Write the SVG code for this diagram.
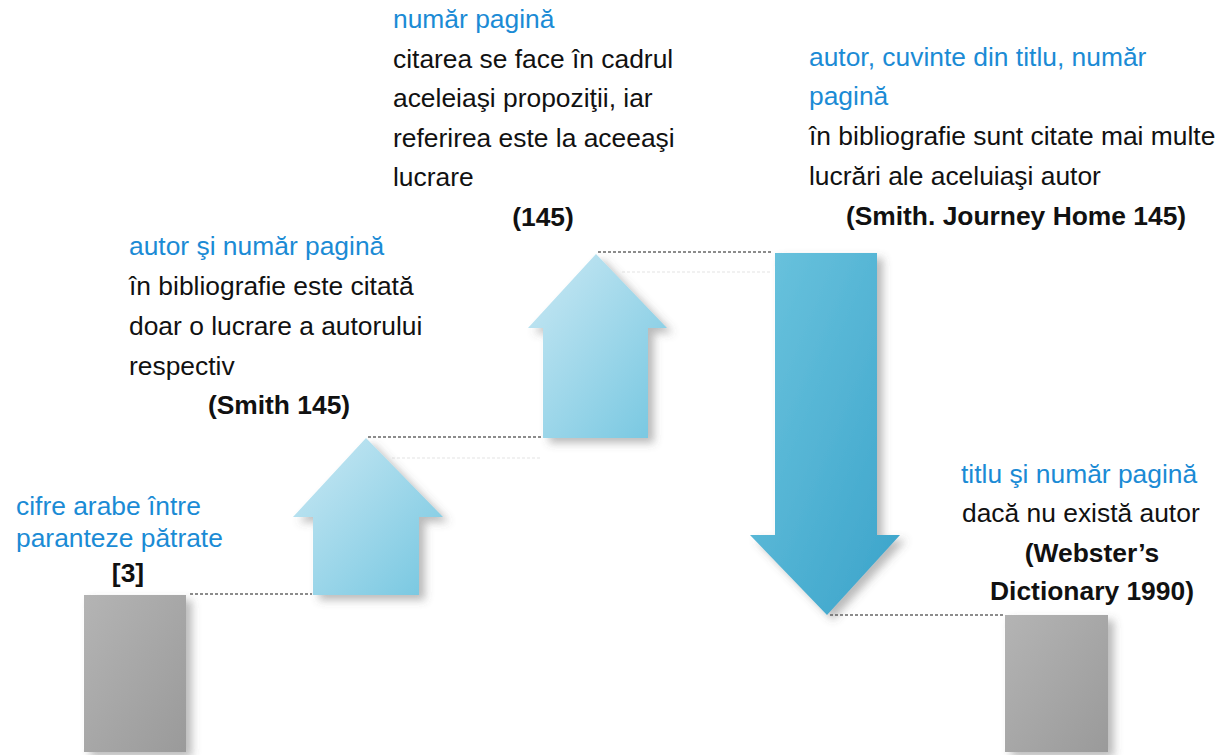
<svg xmlns="http://www.w3.org/2000/svg" width="1230" height="755" viewBox="0 0 1230 755">
<defs>
<linearGradient id="gGray" x1="0" y1="0" x2="1" y2="1">
<stop offset="0" stop-color="#b4b4b4"/>
<stop offset="1" stop-color="#9a9a9a"/>
</linearGradient>
<linearGradient id="gUp" x1="0" y1="0" x2="1" y2="1">
<stop offset="0" stop-color="#cbe9f4"/>
<stop offset="1" stop-color="#74c6e0"/>
</linearGradient>
<linearGradient id="gDown" x1="0" y1="0" x2="1" y2="1">
<stop offset="0" stop-color="#6cc4de"/>
<stop offset="1" stop-color="#3aa3ca"/>
</linearGradient>
<linearGradient id="gBase" x1="0" y1="0" x2="1" y2="0">
<stop offset="0" stop-color="#d4d4d4" stop-opacity="0.3"/>
<stop offset="0.1" stop-color="#d4d4d4"/>
<stop offset="0.85" stop-color="#d4d4d4"/>
<stop offset="1" stop-color="#d4d4d4" stop-opacity="0"/>
</linearGradient>
<filter id="sh" x="-20%" y="-20%" width="150%" height="150%">
<feDropShadow dx="6" dy="5" stdDeviation="4" flood-color="#555" flood-opacity="0.4"/>
</filter>
</defs>
<style>
text{font-family:"Liberation Sans",Arial,sans-serif;font-size:26.4px;fill:#111}
.b{fill:#1b8bd5}
.bold{font-weight:bold}
.c{text-anchor:middle}
.dot{stroke:#8c8c8c;stroke-width:2;stroke-dasharray:3 2;fill:none}
.dotf{stroke:#8c8c8c;stroke-width:2;stroke-dasharray:3 2;fill:none;opacity:0.12}
</style>
<rect width="1230" height="755" fill="#ffffff"/>
<line x1="43" y1="753" x2="1215" y2="753" stroke="url(#gBase)" stroke-width="2"/>

<g id="connectors">
<line class="dot" x1="190" y1="594" x2="312" y2="594"/>
<line class="dot" x1="368" y1="437" x2="541" y2="437"/>
<line class="dot" x1="598" y1="252" x2="772" y2="252"/>
<line class="dot" x1="830" y1="615" x2="1003" y2="615"/>
<line class="dotf" x1="392" y1="458" x2="541" y2="458"/>
<line class="dotf" x1="622" y1="272" x2="772" y2="272"/>
</g>

<g id="node-box1">
<rect x="84" y="595" width="102" height="157" fill="url(#gGray)" filter="url(#sh)"/>
<text class="b" x="16" y="515">cifre arabe între</text>
<text class="b" x="16" y="547">paranteze pătrate</text>
<text class="bold c" x="128" y="582">[3]</text>
</g>

<g id="node-arrow1">
<path d="M366,438 L443,517 L419,517 L419,595 L313,595 L313,517 L293,517 Z" fill="url(#gUp)" filter="url(#sh)"/>
<text class="b" x="129" y="255">autor şi număr pagină</text>
<text x="129" y="295">în bibliografie este citată</text>
<text x="129" y="335">doar o lucrare a autorului</text>
<text x="129" y="375">respectiv</text>
<text class="bold c" x="279" y="414">(Smith 145)</text>
</g>

<g id="node-arrow2">
<path d="M596,254 L667,328 L648,328 L648,438 L543,438 L543,328 L528,328 Z" fill="url(#gUp)" filter="url(#sh)"/>
<text class="b" x="393" y="28">număr pagină</text>
<text x="393" y="68">citarea se face în cadrul</text>
<text x="393" y="107">aceleiaşi propoziţii, iar</text>
<text x="393" y="147">referirea este la aceeaşi</text>
<text x="393" y="186">lucrare</text>
<text class="bold c" x="543" y="226">(145)</text>
</g>

<g id="node-arrow3">
<path d="M775,253 L877,253 L877,535 L900,535 L827,615 L750,535 L775,535 Z" fill="url(#gDown)" filter="url(#sh)"/>
<text class="b" x="809" y="66">autor, cuvinte din titlu, număr</text>
<text class="b" x="809" y="105">pagină</text>
<text x="809" y="145">în bibliografie sunt citate mai multe</text>
<text x="809" y="185">lucrări ale aceluiaşi autor</text>
<text class="bold c" x="1016" y="225">(Smith. Journey Home 145)</text>
</g>

<g id="node-box2">
<rect x="1005" y="615" width="103" height="137" fill="url(#gGray)" filter="url(#sh)"/>
<text class="b" x="961" y="483">titlu şi număr pagină</text>
<text x="962" y="522">dacă nu există autor</text>
<text class="bold c" x="1092" y="562">(Webster’s</text>
<text class="bold c" x="1092" y="600">Dictionary 1990)</text>
</g>
</svg>
